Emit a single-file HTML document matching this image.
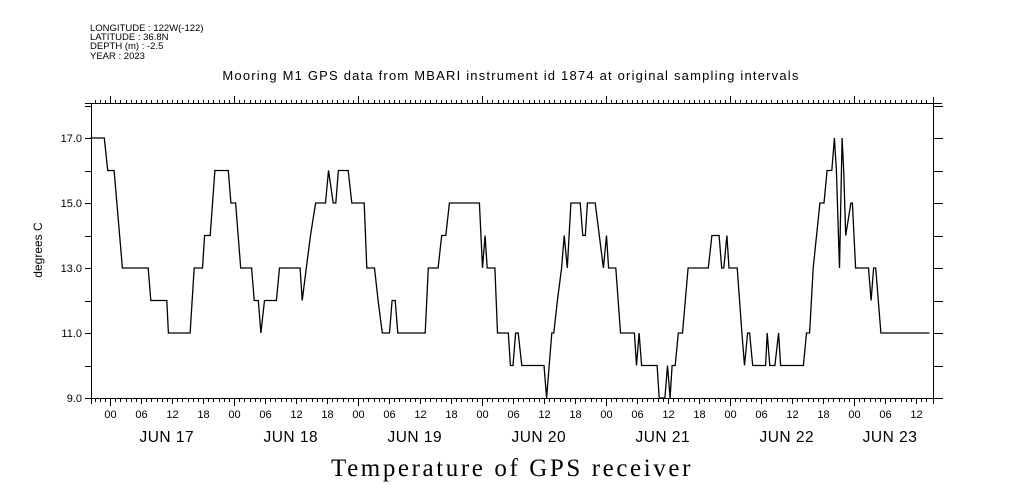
<!DOCTYPE html>
<html><head><meta charset="utf-8"><style>
body{margin:0;background:#fff;width:1009px;height:504px;overflow:hidden}
svg{display:block}
text{font-family:"Liberation Sans",sans-serif;fill:#000}
</style></head><body>
<svg id="chart" width="1009" height="504" viewBox="0 0 1009 504">
<g font-size="9.5">
<text x="90" y="31">LONGITUDE : 122W(-122)</text>
<text x="90" y="40">LATITUDE : 36.8N</text>
<text x="90" y="49">DEPTH (m) : -2.5</text>
<text x="90" y="59">YEAR : 2023</text>
</g>
<text x="511" y="80" text-anchor="middle" font-size="13" letter-spacing="1.2">Mooring M1 GPS data from MBARI instrument id 1874 at original sampling intervals</text>
<text transform="translate(42,250) rotate(-90)" text-anchor="middle" font-size="12">degrees C</text>
<text x="512" y="476" text-anchor="middle" font-size="25" letter-spacing="2.6" style="font-family:'Liberation Serif',serif">Temperature of GPS receiver</text>
<g id="axes" stroke="#000" stroke-width="1" fill="none"></g>
<g id="labels"></g>
<path id="series" fill="none" stroke="#000" stroke-width="1.3"/>
</svg>
<script>
// hours since JUN 17 00:00
const hours=[-3.8,-1.1,-0.45,0.8,2.4,7.4,7.9,11,11.3,15.5,16.3,17.9,18.3,19.4,20.3,22.9,23.4,24.3,25.3,27.4,27.9,28.7,29.2,29.9,32.2,32.8,36.8,37.2,38,38.8,39.8,41.7,42.3,43.2,43.7,44.2,46.1,46.8,49.2,49.7,51.2,51.9,52.7,54.1,54.6,55.2,55.7,61,61.6,63.5,64.2,65,65.7,71.5,72.1,72.6,73,74.5,75,77.1,77.5,78,78.5,79,79.7,84,84.5,85.5,85.9,86.6,87.4,87.9,88.5,89.2,91,91.5,92,92.4,93.9,94.7,95.5,96.1,96.5,97.9,98.8,101.5,101.9,102.4,102.9,105.9,106.3,107.4,107.9,108.4,108.8,109.4,110,110.8,111.9,115.8,116.5,117.9,118.4,118.8,119.4,119.8,121.4,122.3,122.8,123.4,123.8,124.4,126.9,127.2,127.7,128.7,129.4,129.8,134.2,134.8,135.4,136.1,137.4,138.2,138.8,139.7,140.2,140.6,141.2,141.7,142,142.4,143.4,143.7,144.3,146.8,147.3,147.8,148.2,149.2,158.6];
const temps=[17,17,16,16,13,13,12,12,11,11,13,13,14,14,16,16,15,15,13,13,12,12,11,12,12,13,13,12,13,14,15,15,16,15,15,16,16,15,15,13,13,12,11,11,12,12,11,11,13,13,14,14,15,15,13,14,13,13,11,11,10,10,11,11,10,10,9,11,11,12,13,14,13,15,15,14,14,15,15,14,13,14,13,13,11,11,10,11,10,10,9,9,10,9,10,10,11,11,13,13,14,14,13,13,14,13,13,11,10,11,11,10,10,11,10,10,11,10,10,11,11,13,15,15,16,16,17,16,13,17,16,14,15,15,13,13,12,13,13,11,11];
const yTicks=[9,11,13,15,17];
const yTickLabels=["9.0","11.0","13.0","15.0","17.0"];
const dayLabels=["JUN 17","JUN 18","JUN 19","JUN 20","JUN 21","JUN 22","JUN 23"];
const hourLabels=["00","06","12","18"];
const L=91,R=933,T=103,B=398;
const xs=h=>110+h*124/24;
const ys=v=>398-(v-9)*32.5;
const NS="http://www.w3.org/2000/svg";
const ax=document.getElementById('axes'),lb=document.getElementById('labels');
function ln(x1,y1,x2,y2,name){const e=document.createElementNS(NS,'line');e.setAttribute('x1',x1);e.setAttribute('y1',y1);e.setAttribute('x2',x2);e.setAttribute('y2',y2);


ax.appendChild(e);}
function tx(x,y,s,size,anchor,name){const e=document.createElementNS(NS,'text');e.setAttribute('x',x);e.setAttribute('y',y);e.setAttribute('font-size',size);e.setAttribute('text-anchor',anchor);e.textContent=s;


lb.appendChild(e);return e;}
ln(85,T+.5,942,T+.5,'top-axis');ln(85,B+.5,942,B+.5,'x-axis');
ln(L+.5,T,L+.5,B+6,'y-axis');ln(R+.5,T-6,R+.5,B+6,'right-axis');
for(let v=9;v<=18;v++){const y=Math.round(ys(v))+.5;ln(L-6,y,L,y,'y-tick');ln(R,y,R+10,y,'right-tick');}
yTicks.forEach((v,i)=>tx(L-9,ys(v)+4,yTickLabels[i],11,'end','y-tick-label'));
for(let h=-3;h<=158;h++){const x=Math.round(xs(h))+.5;if(x<L||x>R)continue;
const d=((h%24)+24)%24;
ln(x,B,x,B+(d==0?8:(d%6==0?6:4)),'x-tick');
ln(x,T,x,T-(d==0?7:3),'top-tick');
if(d%6==0)tx(x,418,hourLabels[d/6],11,'middle','hour-label');}
dayLabels.forEach((s,i)=>{const t=tx(Math.min(xs(i*24+11),890),442,s,15.5,'middle','day-label');t.setAttribute('letter-spacing','0.5');});
let d='';hours.forEach((h,i)=>{d+=(i?'L':'M')+xs(h).toFixed(1)+','+ys(temps[i]).toFixed(1);});
document.getElementById('series').setAttribute('d',d);
</script>
</body></html>
